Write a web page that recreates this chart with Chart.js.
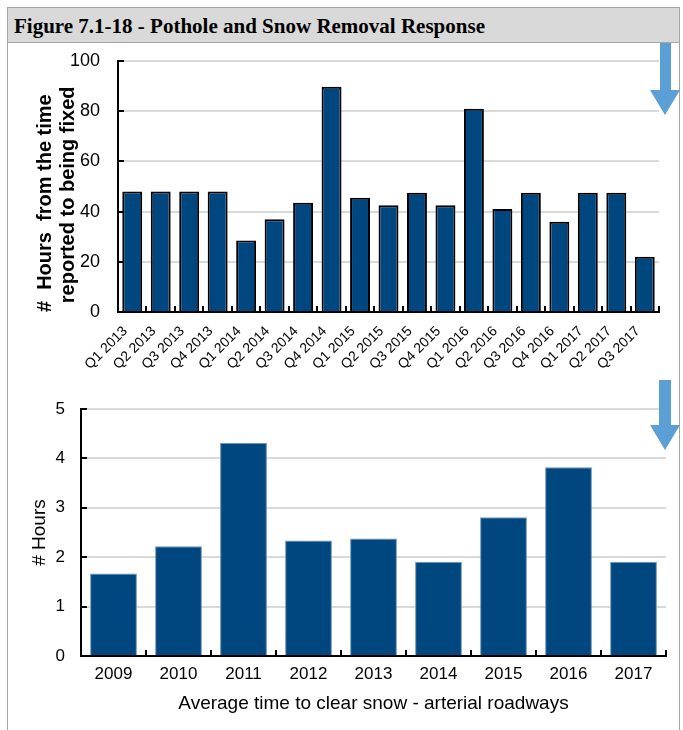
<!DOCTYPE html>
<html>
<head>
<meta charset="utf-8">
<script src="https://cdn.jsdelivr.net/npm/chart.js@4/dist/chart.umd.min.js"></script>
<style>
  html, body { margin: 0; padding: 0; background: #fff; }
  body { width: 683px; height: 730px; position: relative; overflow: hidden; }
  #frame { position: absolute; left: 7px; top: 7px; width: 673px; height: 740px;
           border: 1px solid #a6a6a6; box-sizing: border-box; }
  #band { position: absolute; left: 8px; top: 8px; width: 671px; height: 34px;
          background: #d9d9d9; border-bottom: 1px solid #a6a6a6; }
  #title { position: absolute; left: 14px; top: 9px; height: 34px; line-height: 34px;
           font-family: 'Liberation Serif', 'Times New Roman', serif; font-weight: bold;
           font-size: 21px; color: #000; white-space: nowrap; }
  .wrap { position: absolute; left: 8px; width: 672px; }
  #w1 { top: 42px; height: 330px; }
  #w2 { top: 380px; height: 350px; }
  svg.arrow { position: absolute; left: 0; top: 0; }
</style>
</head>
<body>
<div id="frame"></div>
<div id="band"></div>
<div id="title">Figure 7.1-18 - Pothole and Snow Removal Response</div>
<div class="wrap" id="w1"><canvas id="c1" width="672" height="330"></canvas></div>
<div class="wrap" id="w2"><canvas id="c2" width="672" height="350"></canvas></div>
<svg class="arrow" width="683" height="730" viewBox="0 0 683 730">
  <rect x="660" y="43" width="11" height="48" fill="#5b9fd5"/>
  <polygon points="650,90 680,90 665,115" fill="#5b9fd5"/>
  <rect x="659" y="380" width="12" height="46" fill="#5b9fd5"/>
  <polygon points="650,425 680,425 665,450" fill="#5b9fd5"/>
</svg>
<script>
// ---- Data ----
const quarters = ['Q1 2013','Q2 2013','Q3 2013','Q4 2013','Q1 2014','Q2 2014','Q3 2014','Q4 2014',
  'Q1 2015','Q2 2015','Q3 2015','Q4 2015','Q1 2016','Q2 2016','Q3 2016','Q4 2016',
  'Q1 2017','Q2 2017','Q3 2017'];
const potholeHours = [48, 48, 48, 48, 28.5, 37, 43.5, 89.7, 45.5, 42.5, 47.5, 42.5, 81, 41, 47.5, 36, 47.5, 47.5, 22];
const potholeTicks = [0, 20, 40, 60, 80, 100];

const years = ['2009','2010','2011','2012','2013','2014','2015','2016','2017'];
const snowHours = [1.67, 2.22, 4.31, 2.34, 2.38, 1.91, 2.81, 3.82, 1.91];
const snowTicks = [0, 1, 2, 3, 4, 5];

const potholeAxisTitle = ['#  Hours  from the time      ', 'reported to being fixed   '];
const snowYTitle = '# Hours';
const snowXTitle = 'Average time to clear snow - arterial roadways';

Chart.defaults.color = '#000';
Chart.defaults.font.family = "'Liberation Sans', Arial, sans-serif";
Chart.defaults.animation = false;

const BAR = '#00467f';

function inwardTicks(len) {
  return {
    id: 'inwardTicks',
    afterDatasetsDraw(chart) {
      const {ctx, chartArea, scales} = chart;
      ctx.save();
      ctx.strokeStyle = '#000';
      ctx.lineWidth = 2;
      ctx.beginPath();
      scales.y.ticks.forEach((t, i) => {
        const y = Math.round(scales.y.getPixelForTick(i));
        ctx.moveTo(chartArea.left, y);
        ctx.lineTo(chartArea.left + len, y);
      });
      const n = scales.x.ticks.length;
      for (let i = 0; i <= n; i++) {
        const x = Math.round(scales.x.getPixelForValue(i - 0.5));
        ctx.moveTo(x, chartArea.bottom);
        ctx.lineTo(x, chartArea.bottom - len);
      }
      ctx.stroke();
      ctx.restore();
    }
  };
}

new Chart(document.getElementById('c1'), {
  type: 'bar',
  data: {
    labels: quarters,
    datasets: [{
      data: potholeHours,
      backgroundColor: BAR,
      borderColor: '#000',
      borderWidth: 2,
      categoryPercentage: 1,
      barPercentage: 0.7
    }]
  },
  options: {
    responsive: false,
    layout: { padding: { top: 19, right: 21, left: 0, bottom: 0 } },
    plugins: { legend: { display: false }, tooltip: { enabled: false } },
    scales: {
      y: {
        min: 0, max: 100,
        afterBuildTicks(s) { s.ticks = potholeTicks.map(v => ({ value: v })); },
        afterFit(s) { s.width = 110; s.paddingTop = 0; s.paddingBottom = 0; },
        ticks: { font: { size: 18 }, padding: 18 },
        grid: { color: '#d9d9d9', lineWidth: 2, drawTicks: false },
        border: { color: '#000', width: 2 },
        title: { display: true, text: potholeAxisTitle,
                 font: { size: 20, weight: 'bold', lineHeight: 1.15 },
                 padding: { top: 26, bottom: 0 } }
      },
      x: {
        afterFit(s) { s.height = 60; s.paddingLeft = 0; s.paddingRight = 0; s.paddingTop = 0; s.paddingBottom = 0; },
        ticks: { font: { size: 14 }, maxRotation: 45, minRotation: 45, autoSkip: false, padding: 11, labelOffset: -7 },
        grid: { display: true, drawOnChartArea: false, drawTicks: false },
        border: { color: '#000', width: 2 }
      }
    }
  },
  plugins: [inwardTicks(6)]
});

new Chart(document.getElementById('c2'), {
  type: 'bar',
  data: {
    labels: years,
    datasets: [{
      data: snowHours,
      backgroundColor: BAR,
      borderColor: '#6f93b8',
      borderWidth: 1,
      borderSkipped: 'start',
      categoryPercentage: 1,
      barPercentage: 0.72
    }]
  },
  options: {
    responsive: false,
    layout: { padding: { top: 29, right: 14, left: 0, bottom: 0 } },
    plugins: { legend: { display: false }, tooltip: { enabled: false } },
    scales: {
      y: {
        min: 0, max: 5,
        afterBuildTicks(s) { s.ticks = snowTicks.map(v => ({ value: v })); },
        afterFit(s) { s.width = 73; },
        ticks: { font: { size: 17 }, padding: 16 },
        grid: { color: '#d9d9d9', lineWidth: 2, drawTicks: false },
        border: { color: '#000', width: 2 },
        title: { display: true, text: snowYTitle,
                 font: { size: 19, lineHeight: 1.2 },
                 padding: { top: 20, bottom: 0 } }
      },
      x: {
        afterFit(s) { s.height = 74; },
        ticks: { font: { size: 17 }, padding: 8, maxRotation: 0, autoSkip: false },
        grid: { display: true, drawOnChartArea: false, drawTicks: false },
        border: { color: '#000', width: 2 },
        title: { display: true, text: snowXTitle, font: { size: 19, lineHeight: 1.2 },
                 padding: { top: 0, bottom: 15 } }
      }
    }
  },
  plugins: [inwardTicks(6)]
});
</script>
</body>
</html>
